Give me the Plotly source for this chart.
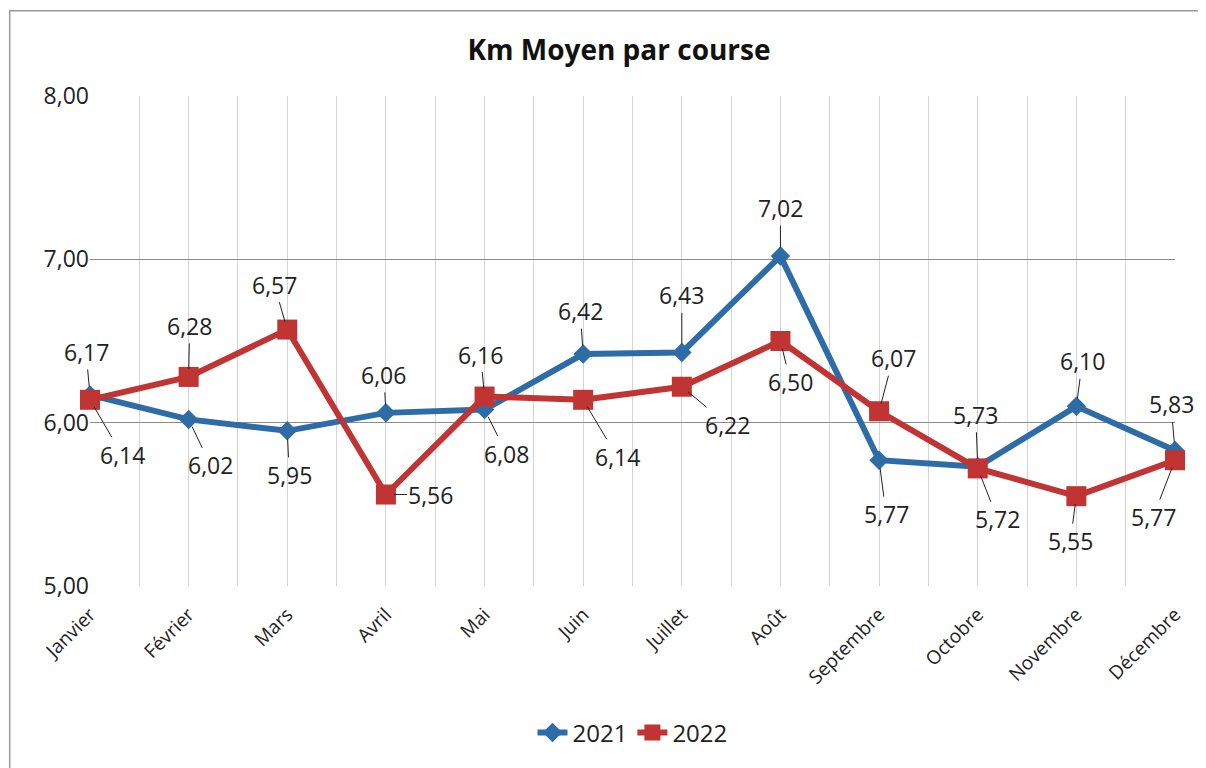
import plotly.graph_objects as go

mois = ['Janvier', 'Février', 'Mars', 'Avril', 'Mai', 'Juin', 'Juillet',
        'Août', 'Septembre', 'Octobre', 'Novembre', 'Décembre']
km_2021 = [6.17, 6.02, 5.95, 6.06, 6.08, 6.42, 6.43, 7.02, 5.77, 5.73, 6.10, 5.83]
km_2022 = [6.14, 6.28, 6.57, 5.56, 6.16, 6.14, 6.22, 6.50, 6.07, 5.72, 5.55, 5.77]

# décalage des étiquettes (pixels), comme dans le graphique Excel
offsets_2021 = [(-4, -43), (22, 46), (2, 44), (-2, -38), (22, 44), (-3, -43),
                (0, -57), (0, -48), (7, 54), (-2, -52), (6, -45), (-4, -46)]
offsets_2022 = [(32, 55), (1, -51), (-13, -45), (45, 0), (-4, -42), (34, 57),
                (46, 38), (10, 41), (14, -53), (20, 51), (-6, 45), (-22, 57)]

BLEU = 'rgb(46, 108, 168)'
ROUGE = 'rgb(192, 52, 52)'
FONT = 'Open Sans'

x = list(range(len(mois)))

# grille verticale tous les demi-mois
tick_pos = [i / 2 for i in range(2 * len(mois) - 1)]
tick_txt = [mois[int(p)] if p == int(p) else '' for p in tick_pos]

trace_2021 = go.Scatter(
    x=x, y=km_2021, name='2021', mode='lines+markers', cliponaxis=False,
    line=dict(color=BLEU, width=6),
    marker=dict(symbol='diamond', size=15, color=BLEU))

trace_2022 = go.Scatter(
    x=x, y=km_2022, name='2022', mode='lines+markers', cliponaxis=False,
    line=dict(color=ROUGE, width=6),
    marker=dict(symbol='square', size=20, color=ROUGE))

annotations = []
for serie, offsets in ((km_2021, offsets_2021), (km_2022, offsets_2022)):
    for i, v in enumerate(serie):
        dx, dy = offsets[i]
        annotations.append(dict(
            x=x[i], y=v, xref='x', yref='y',
            text=('%.2f' % v).replace('.', ','),
            showarrow=True, arrowhead=0, arrowwidth=1, arrowcolor='#222',
            standoff=8, ax=dx, ay=dy,
            font=dict(family=FONT, size=23, color='#222')))

layout = go.Layout(
    width=1198, height=760,
    paper_bgcolor='white', plot_bgcolor='white',
    margin=dict(l=82, r=31, t=88, b=178),
    separators=', ',
    title=dict(text='<b>Km Moyen par course</b>', x=0.51, xanchor='center',
               y=0.945, yanchor='middle',
               font=dict(family=FONT, size=28, color='#111')),
    xaxis=dict(
        range=[0, 11], tickmode='array', tickvals=tick_pos, ticktext=tick_txt,
        tickangle=-45,
        showgrid=True, gridcolor='#d4d4d4', gridwidth=1,
        zeroline=False, showline=False, ticks='outside', ticklen=9,
        tickcolor='rgba(0,0,0,0)',
        tickfont=dict(family=FONT, size=19, color='#222')),
    yaxis=dict(
        range=[5, 8], dtick=1, tickformat='.2f',
        showgrid=True, gridcolor='#8c8c8c', gridwidth=1,
        zeroline=False, showline=False, ticks='',
        tickfont=dict(family=FONT, size=23, color='#222')),
    showlegend=True,
    legend=dict(orientation='h', x=0.5, xanchor='center', y=-0.30,
                yanchor='middle', font=dict(family=FONT, size=24, color='#222')),
    annotations=annotations,
    shapes=[dict(type='rect', xref='paper', yref='paper',
                 x0=-0.074, x1=1.1, y0=-0.4, y1=1.174,
                 line=dict(color='#999', width=1.5), layer='below')])

fig = go.Figure(data=[trace_2021, trace_2022], layout=layout)
fig.write_html('out.html')
